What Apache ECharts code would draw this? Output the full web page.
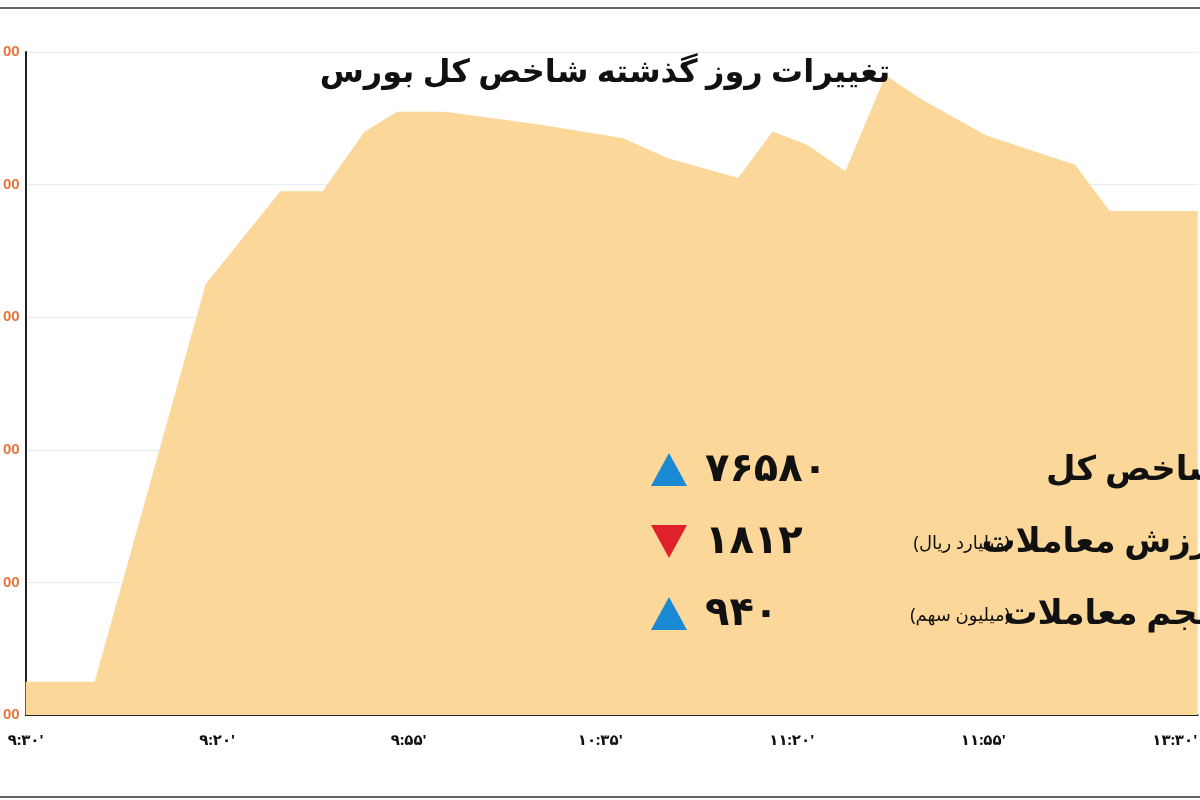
<!DOCTYPE html><html><head><meta charset="utf-8"><script src="https://cdn.jsdelivr.net/npm/echarts@6/dist/echarts.min.js"></script>
<style>html,body{margin:0;padding:0;background:#fff}#c{width:1200px;height:800px}</style></head><body><div id="c"></div><script>
const xTickLabels=["۹:۳۰'","۹:۲۰'","۹:۵۵'","۱۰:۳۵'","۱۱:۲۰'","۱۱:۵۵'","۱۳:۳۰'"];
const yTickLabels=["00","00","00","00","00","00"];
const xPos=[0,0.36,0.94,1.33,1.55,1.77,1.94,2.19,2.70,3.12,3.35,3.72,3.90,4.08,4.28,4.49,4.67,5.01,5.27,5.48,5.66,6.12];
const indexValues=[76505,76505,76565,76579,76579,76588,76591,76591,76589,76587,76584,76581,76588,76586,76582,76596.5,76593,76587.5,76585,76583,76576,76576];
const title="تغییرات روز گذشته شاخص کل بورس";
const rowLabels=["شاخص کل","ارزش معاملات","حجم معاملات"];
const rowUnits=["","(میلیارد ریال)","(میلیون سهم)"];
const rowValues=["۷۶۵۸۰","۱۸۱۲","۹۴۰"];
const rowUp=[true,false,true];
const ch=echarts.init(document.getElementById('c'));
const F="'Noto Sans','DejaVu Sans',sans-serif";
const g=[];
rowLabels.forEach((t,i)=>{const y=470+i*72;
 g.push({type:'text',x:1222,y:y,z:100,style:{text:t,font:"bold 34px "+F,fill:'#111',textAlign:'right',textVerticalAlign:'middle'}});
 if(rowUnits[i])g.push({type:'text',x:1010,y:y+2,z:100,style:{text:rowUnits[i],font:"18px "+F,fill:'#111',textAlign:'right',textVerticalAlign:'middle'}});
 g.push({type:'text',x:705,y:y,z:100,style:{text:rowValues[i],font:"bold 40px "+F,fill:'#111',textVerticalAlign:'middle'}});
 g.push({type:'polygon',z:100,shape:{points:rowUp[i]?[[651,y+16],[687,y+16],[669,y-17]]:[[651,y-17],[687,y-17],[669,y+16]]},style:{fill:rowUp[i]?'#1a8ad4':'#e0202a'}});
});
g.push({type:'rect',z:100,shape:{x:-5,y:8,width:1300,height:789},style:{fill:'none',stroke:'#333',lineWidth:1.5},silent:true});
ch.setOption({animation:false,
 title:{text:title,left:600,top:52,textAlign:'center',textStyle:{fontSize:32,fontWeight:'bold',color:'#111',fontFamily:F}},
 grid:{left:18,right:0,top:52,bottom:85},
 xAxis:{type:'value',min:0,max:6.12,interval:1,axisLine:{show:true,lineStyle:{color:'#222',width:2}},axisTick:{show:false},splitLine:{show:false},
  axisLabel:{margin:18,fontSize:15,fontWeight:'bold',color:'#111',fontFamily:F,formatter:v=>{const i=Math.round(v);return i<xTickLabels.length?xTickLabels[i]:''}}},
 yAxis:{type:'value',min:76500,max:76600,interval:20,axisLine:{show:true,lineStyle:{color:'#222',width:2}},axisTick:{show:false},
  splitLine:{lineStyle:{color:'#e6eef5'}},axisLabel:{margin:6,fontSize:15,fontWeight:'bold',color:'#e8743b',formatter:(v)=>yTickLabels[Math.round((v-76500)/20)]}},
 series:[{type:'line',data:xPos.map((x,i)=>[x,indexValues[i]]),symbol:'none',lineStyle:{width:0},areaStyle:{color:'#fbd79a',opacity:1},z:1}],
 graphic:{elements:g}});
</script></body></html>
